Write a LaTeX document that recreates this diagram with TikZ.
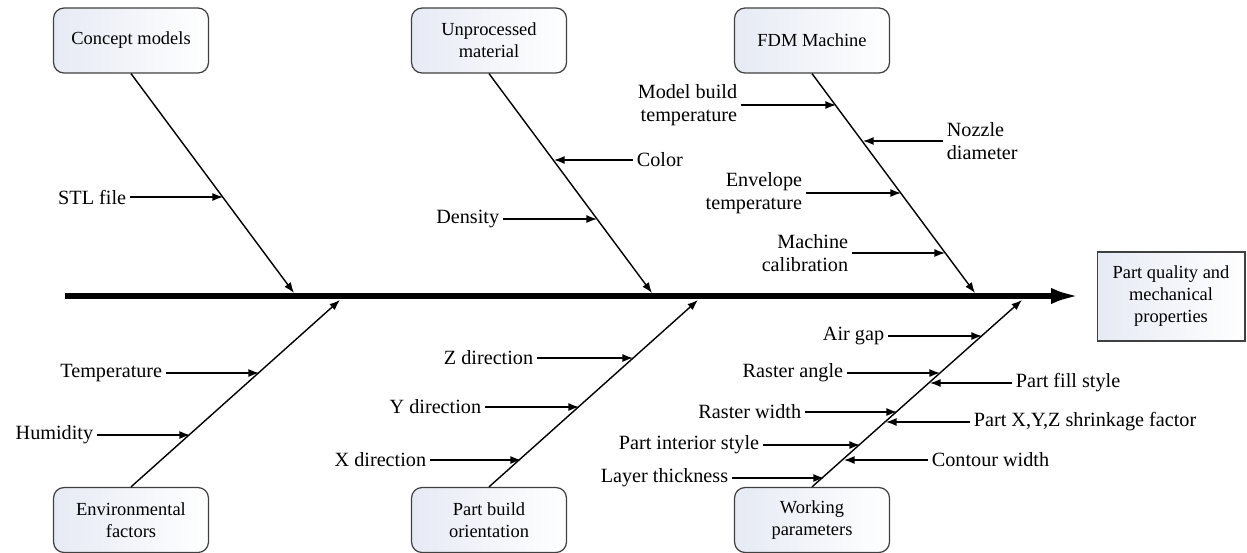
\documentclass[tikz,border=0pt]{standalone}
\usepackage{fontspec}
\setmainfont{Liberation Serif}
\usetikzlibrary{arrows.meta}
\definecolor{boxtint}{RGB}{230,234,244}
\begin{document}
\begin{tikzpicture}[x=0.02cm,y=-0.02cm,
    font=\fontsize{10.5}{12.5}\selectfont,
    cause/.style={draw=black!75,rounded corners=6pt,left color=boxtint,right color=white,
      minimum width=3.1cm,minimum height=1.3cm,align=center,line width=0.7pt},
    effect/.style={draw=black!75,left color=boxtint,right color=white,
      minimum width=2.96cm,minimum height=1.78cm,align=center,line width=0.6pt},
    lbl/.style={inner sep=2pt,align=right,anchor=east,font=\fontsize{11.5}{12.8}\selectfont},
    rlbl/.style={inner sep=2pt,align=left,anchor=west,font=\fontsize{11.5}{12.8}\selectfont},
    bone/.style={line width=0.8pt,-{Latex[length=6pt,width=4.5pt]}},
    sub/.style={line width=0.7pt,-{Latex[length=6pt,width=4.5pt]}}
  ]
\useasboundingbox (0,0) rectangle (1247,552);

% cause boxes
\node[cause] (concept) at (131,40.5) {Concept models};
\node[cause] (material) at (489,40.5) {Unprocessed\\material};
\node[cause] (machine) at (812,40.5) {FDM Machine};
\node[cause] (environ) at (131,520) {Environmental\\factors};
\node[cause] (orient) at (489,520) {Part build\\orientation};
\node[cause] (params) at (812,520) {Working\\parameters};
\node[effect] (quality) at (1171,296.5) {Part quality and\\mechanical\\properties};

% spine
\coordinate (spineS) at (65,296);
\coordinate (spineE) at (1081,296);
\draw[line width=3.4pt,-{Latex[length=17pt,width=9pt]}] (spineS) -- (spineE);

% bones
\coordinate (conceptT) at (294,293);
\coordinate (materialT) at (652,293);
\coordinate (machineT) at (975,293);
\coordinate (environT) at (340,300);
\coordinate (orientT) at (698,300);
\coordinate (paramsT) at (1022,300);
\draw[bone] (concept.south) -- (conceptT);
\draw[bone] (material.south) -- (materialT);
\draw[bone] (machine.south) -- (machineT);
\draw[bone] (environ.north) -- (environT);
\draw[bone] (orient.north) -- (orientT);
\draw[bone] (params.north) -- (paramsT);

% concept models
\node[lbl] (stl) at (130,197) {STL file};
\coordinate (stlP) at (223,197);
\draw[sub] (stl) -- (stlP);

% unprocessed material
\node[rlbl] (color) at (633,160) {Color};
\coordinate (colorP) at (554,160);
\draw[sub] (color) -- (colorP);
\node[lbl] (density) at (503,219) {Density};
\coordinate (densityP) at (597,219);
\draw[sub] (density) -- (densityP);

% FDM machine
\node[lbl] (buildtemp) at (741,105) {Model build\\temperature};
\coordinate (buildtempP) at (836,105);
\draw[sub] (buildtemp) -- (buildtempP);
\node[rlbl] (nozzle) at (943,141) {Nozzle\\diameter};
\coordinate (nozzleP) at (863,141);
\draw[sub] (nozzle) -- (nozzleP);
\node[lbl] (envtemp) at (806,193) {Envelope\\temperature};
\coordinate (envtempP) at (901,193);
\draw[sub] (envtemp) -- (envtempP);
\node[lbl] (calib) at (852,253) {Machine\\calibration};
\coordinate (calibP) at (945,253);
\draw[sub] (calib) -- (calibP);

% environmental factors
\node[lbl] (temp) at (166,373) {Temperature};
\coordinate (tempP) at (259,373);
\draw[sub] (temp) -- (tempP);
\node[lbl] (humid) at (97,435) {Humidity};
\coordinate (humidP) at (190,435);
\draw[sub] (humid) -- (humidP);

% part build orientation
\node[lbl] (zdir) at (537,358) {Z direction};
\coordinate (zdirP) at (633,358);
\draw[sub] (zdir) -- (zdirP);
\node[lbl] (ydir) at (485,407) {Y direction};
\coordinate (ydirP) at (579,407);
\draw[sub] (ydir) -- (ydirP);
\node[lbl] (xdir) at (430,460) {X direction};
\coordinate (xdirP) at (521,460);
\draw[sub] (xdir) -- (xdirP);

% working parameters
\node[lbl] (airgap) at (888,336) {Air gap};
\coordinate (airgapP) at (982,336);
\draw[sub] (airgap) -- (airgapP);
\node[lbl] (rangle) at (847,373) {Raster angle};
\coordinate (rangleP) at (940,373);
\draw[sub] (rangle) -- (rangleP);
\node[rlbl] (fill) at (1012,383) {Part fill style};
\coordinate (fillP) at (930,383);
\draw[sub] (fill) -- (fillP);
\node[lbl] (rwidth) at (805,412) {Raster width};
\coordinate (rwidthP) at (897,412);
\draw[sub] (rwidth) -- (rwidthP);
\node[rlbl] (shrink) at (970,422) {Part X,Y,Z shrinkage factor};
\coordinate (shrinkP) at (886,422);
\draw[sub] (shrink) -- (shrinkP);
\node[lbl] (interior) at (763,445) {Part interior style};
\coordinate (interiorP) at (860,445);
\draw[sub] (interior) -- (interiorP);
\node[rlbl] (contour) at (928,460) {Contour width};
\coordinate (contourP) at (844,460);
\draw[sub] (contour) -- (contourP);
\node[lbl] (layer) at (732,478) {Layer thickness};
\coordinate (layerP) at (824,478);
\draw[sub] (layer) -- (layerP);
\end{tikzpicture}
\end{document}
